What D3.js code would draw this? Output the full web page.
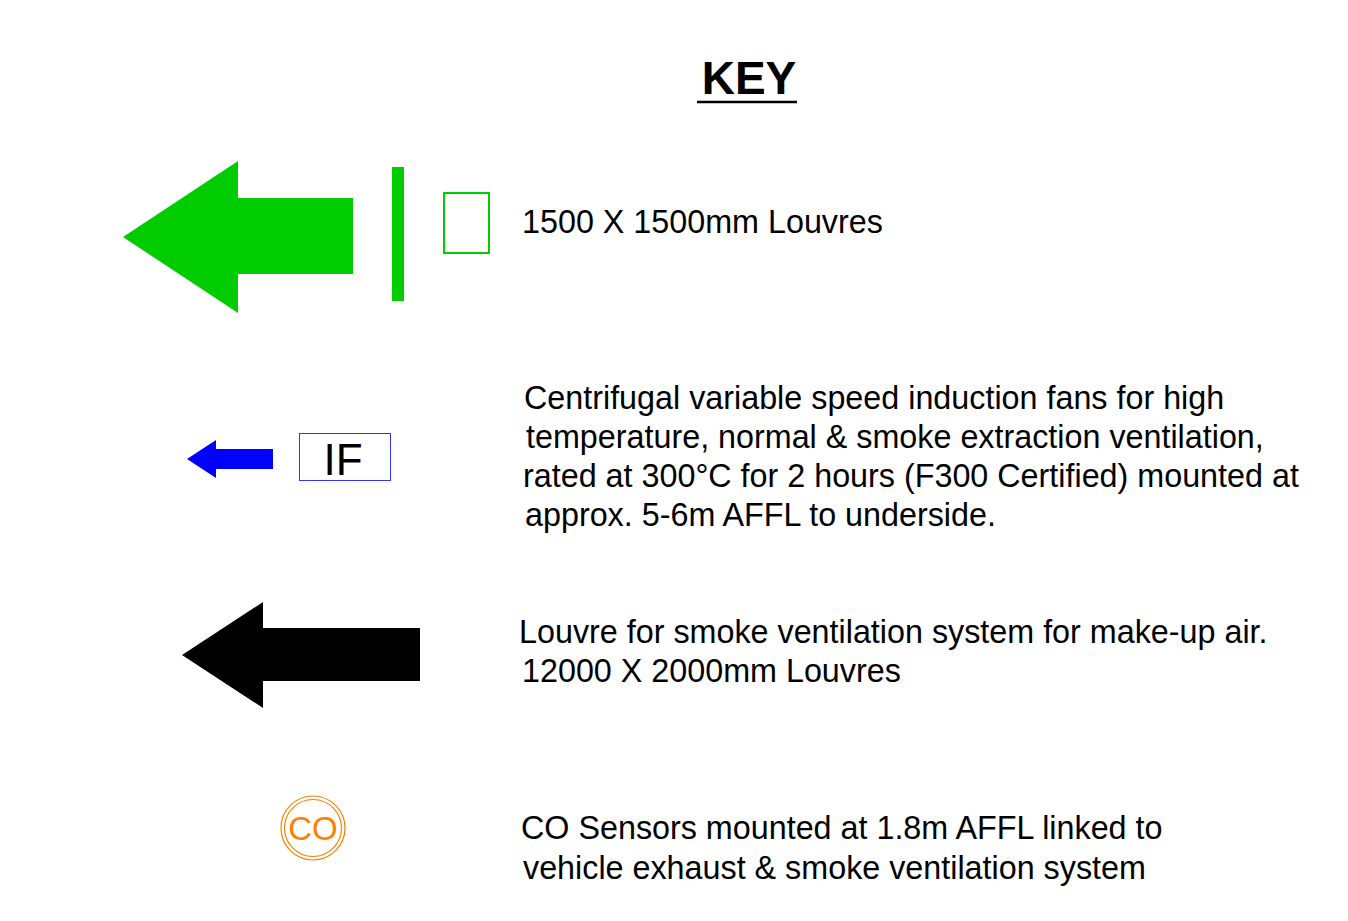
<!DOCTYPE html>
<html>
<head>
<meta charset="utf-8">
<script src="https://cdn.jsdelivr.net/npm/d3@7"></script>
<style>
  body { margin: 0; background: #fff; }
  text { font-family: "Liberation Sans", Arial, sans-serif; }
</style>
</head>
<body>
<script>
var width = 1348,
    height = 921;

// key entries: description lines
var titleText = "KEY";
var louvreLines = ["1500 X 1500mm Louvres"];
var fanLines = ["Centrifugal variable speed induction fans for high",
                "temperature, normal & smoke extraction ventilation,",
                "rated at 300°C for 2 hours (F300 Certified) mounted at",
                "approx. 5-6m AFFL to underside."];
var makeupLines = ["Louvre for smoke ventilation system for make-up air.",
                   "12000 X 2000mm Louvres"];
var coLines = ["CO Sensors mounted at 1.8m AFFL linked to",
               "vehicle exhaust & smoke ventilation system"];
var fanLabel = "IF";
var sensorLabel = "CO";

// arrow symbols: tip, head base, head span, shaft span, tail
var arrows = [
  { color: "#00cc00", tip: [123, 237], headX: 238, head: [161, 313], shaft: [198, 274], tail: 353 },
  { color: "#0000ff", tip: [187, 459], headX: 216, head: [440, 478], shaft: [449, 469], tail: 273 },
  { color: "#000000", tip: [182, 655], headX: 263, head: [602, 708], shaft: [628, 681], tail: 420 }
];

var blocks = [
  { lines: louvreLines, x: [522], y0: 233, step: 39 },
  { lines: fanLines, x: [524, 526, 523, 525], y0: 409, step: 39 },
  { lines: makeupLines, x: [519, 522], y0: 643, step: 39 },
  { lines: coLines, x: [521, 523], y0: 839, step: 40 }
];

var svg = d3.select("body").append("svg")
    .attr("width", width)
    .attr("height", height);

// title
svg.append("text")
    .attr("x", 749).attr("y", 94)
    .attr("text-anchor", "middle")
    .attr("font-size", 46).attr("font-weight", "bold")
    .text(titleText);
svg.append("line")
    .attr("x1", 697).attr("x2", 797)
    .attr("y1", 102).attr("y2", 102)
    .attr("stroke", "#000").attr("stroke-width", 2.5);

// arrows
var line = d3.line();
svg.selectAll("path.arrow")
  .data(arrows)
  .enter().append("path")
    .attr("class", "arrow")
    .attr("fill", function(d) { return d.color; })
    .attr("d", function(d) {
      return line([
        d.tip,
        [d.headX, d.head[0]],
        [d.headX, d.shaft[0]],
        [d.tail, d.shaft[0]],
        [d.tail, d.shaft[1]],
        [d.headX, d.shaft[1]],
        [d.headX, d.head[1]]
      ]) + "Z";
    });

// louvre bar and box
svg.append("rect")
    .attr("x", 392).attr("y", 167).attr("width", 12).attr("height", 134)
    .attr("fill", "#00cc00");
svg.append("rect")
    .attr("x", 444).attr("y", 193).attr("width", 45).attr("height", 60)
    .attr("fill", "none").attr("stroke", "#00cc00").attr("stroke-width", 2);

// induction fan box
svg.append("rect")
    .attr("x", 299.5).attr("y", 433.5).attr("width", 91).attr("height", 47)
    .attr("fill", "none").attr("stroke", "#3333ff").attr("stroke-width", 1);
svg.append("text")
    .attr("x", 343).attr("y", 475)
    .attr("text-anchor", "middle")
    .attr("font-size", 44)
    .text(fanLabel);

// CO sensor
svg.selectAll("circle.co")
  .data([32, 28.5])
  .enter().append("circle")
    .attr("class", "co")
    .attr("cx", 313).attr("cy", 828)
    .attr("r", function(d) { return d; })
    .attr("fill", "none").attr("stroke", "#ff7f00").attr("stroke-width", 1.2);
svg.append("text")
    .attr("x", 313).attr("y", 840)
    .attr("text-anchor", "middle")
    .attr("font-size", 33)
    .attr("fill", "#ff7f00")
    .text(sensorLabel);

// descriptions
blocks.forEach(function(b) {
  svg.append("g").selectAll("text")
    .data(b.lines)
    .enter().append("text")
      .attr("x", function(d, i) { return b.x[i]; })
      .attr("y", function(d, i) { return b.y0 + i * b.step; })
      .attr("font-size", 32.3)
      .attr("fill", "#000")
      .text(function(d) { return d; });
});
</script>
</body>
</html>
